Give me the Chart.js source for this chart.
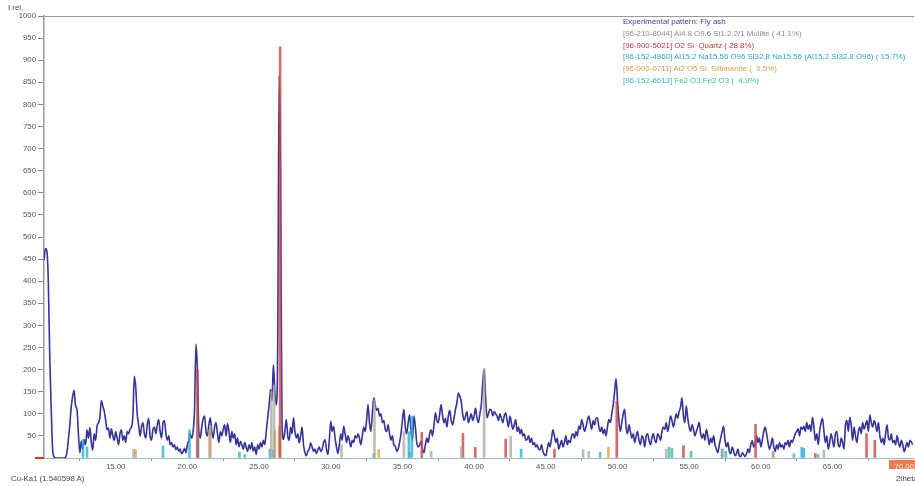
<!DOCTYPE html>
<html>
<head>
<meta charset="utf-8">
<title>XRD pattern - Fly ash</title>
<script src="https://cdn.jsdelivr.net/npm/chart.js@4.4.1/dist/chart.umd.min.js"></script>
<style>
  html, body { margin: 0; padding: 0; background: #fff; }
  #wrap { position: relative; width: 915px; height: 486px; overflow: hidden; font-family: "Liberation Sans", Arial, sans-serif; }
  #xrd { position: absolute; left: 0; top: 0; }
  .note { position: absolute; font-size: 7.8px; color: #444; white-space: pre; }
  #legend { position: absolute; left: 623px; top: 16px; font-size: 7.9px; line-height: 11.8px; }
  #legend div { white-space: pre; }
  #scrollMark { position: absolute; left: 889px; top: 460px; width: 26px; height: 9px; background: #f27a4e; }
  #zeroMark { position: absolute; left: 35px; top: 457px; width: 9px; height: 2px; background: #e03030; }
</style>
</head>
<body>
<div id="wrap">
  <div id="scrollMark"></div>
  <canvas id="xrd" width="915" height="486"></canvas>
  <div id="zeroMark"></div>
  <div class="note" style="left:8px; top:3px;">I rel.</div>
  <div class="note" style="left:11px; top:474px;">Cu-Ka1 (1.540598 A)</div>
  <div class="note" style="left:896px; top:474px;">2theta</div>
  <div id="legend"><div style="color:#3c3c9c">Experimental pattern: Fly ash</div><div style="color:#8c8c8c">[96-210-8044] Al4.8 O9.6 Si1.2 2/1 Mullite ( 41.1%)</div><div style="color:#c0393b">[96-900-5021] O2 Si  Quartz ( 28.8%)</div><div style="color:#2aa8d0">[96-152-4960] Al15.2 Na15.56 O96 Si32.8 Na15.56 (Al15.2 Si32.8 O96) ( 15.7%)</div><div style="color:#e0a040">[96-900-0711] Al2 O5 Si  Sillimanite (  9.5%)</div><div style="color:#3cc0a8">[96-152-6613] Fe2 O3 Fe2 O3 (  4.9%)</div></div>
</div>

<script>
// Scan: 2theta from 10.0 in 0.1 deg steps, one row per degree
var scanStart = 10.0;
var scanStep = 0.1;
var intensities = [
  447, 474, 468, 400, 230, 115, 20, 3, 0, 0,        // 10
  0, 0, 0, 0, 0, 2, 12, 42, 75, 115,                // 11
  140, 153, 118, 110, 55, 12, 38, 20, 42, 30,       // 12
  64, 45, 69, 35, 18, 55, 40, 72, 80, 92,           // 13
  130, 118, 106, 85, 64, 68, 45, 66, 50, 40,        // 14
  60, 45, 30, 55, 64, 40, 50, 35, 60, 55,           // 15
  65, 70, 95, 185, 160, 100, 75, 50, 70, 80,        // 16
  55, 45, 75, 90, 50, 40, 65, 70, 55, 75,           // 17
  87, 60, 45, 80, 85, 55, 40, 50, 30, 35,           // 18
  25, 30, 19, 25, 15, 20, 10, 14, 22, 12,           // 19
  30, 40, 55, 45, 60, 110, 258, 200, 60, 45,        // 20
  70, 88, 95, 60, 50, 75, 91, 60, 45, 70,           // 21
  80, 55, 35, 60, 50, 65, 75, 50, 78, 60,           // 22
  35, 60, 45, 55, 30, 45, 25, 38, 30, 20,           // 23
  35, 25, 15, 30, 20, 35, 15, 25, 8, 30,            // 24
  20, 35, 25, 40, 30, 60, 90, 120, 155, 130,        // 25
  211, 150, 120, 250, 865, 640, 80, 42, 60, 87,     // 26
  50, 40, 70, 55, 91, 60, 45, 55, 34, 50,           // 27
  70, 30, 12, 5, 15, 20, 34, 25, 15, 20,            // 28
  10, 18, 25, 15, 20, 35, 42, 20, 8, 40,            // 29
  83, 60, 72, 45, 25, 10, 30, 55, 40, 72,           // 30
  55, 35, 50, 40, 25, 40, 35, 50, 45, 55,           // 31
  45, 30, 50, 70, 60, 85, 121, 80, 60, 100,         // 32
  136, 120, 108, 112, 95, 100, 80, 85, 65, 60,      // 33
  75, 55, 40, 50, 30, 27, 15, 20, 35, 55,           // 34
  85, 110, 70, 55, 80, 98, 60, 40, 95, 70,          // 35
  35, 25, 30, 38, 20, 12, 30, 45, 35, 55,           // 36
  64, 50, 75, 102, 85, 80, 100, 121, 95, 80,        // 37
  90, 70, 95, 108, 85, 75, 90, 110, 125, 147,       // 38
  140, 128, 100, 85, 95, 105, 80, 90, 100, 85,      // 39
  95, 113, 90, 80, 100, 120, 170, 202, 140, 91,     // 40
  100, 110, 108, 95, 105, 100, 95, 85, 100, 90,     // 41
  80, 95, 102, 85, 70, 95, 80, 65, 75, 87,          // 42
  60, 70, 55, 65, 50, 55, 40, 42, 50, 35,           // 43
  45, 30, 35, 25, 30, 20, 19, 30, 15, 8,            // 44
  5, 20, 35, 25, 45, 64, 50, 35, 45, 20,            // 45
  30, 40, 25, 35, 50, 30, 40, 35, 50, 55,           // 46
  45, 60, 50, 72, 65, 87, 75, 60, 70, 85,           // 47
  95, 80, 65, 85, 75, 90, 91, 70, 60, 70,           // 48
  55, 65, 50, 70, 87, 80, 100, 120, 150, 179,       // 49
  130, 85, 60, 80, 100, 110, 70, 55, 75, 60,        // 50
  45, 55, 35, 50, 60, 40, 30, 50, 45, 25,           // 51
  50, 55, 40, 30, 45, 55, 40, 35, 55, 50,           // 52
  40, 60, 70, 65, 80, 60, 75, 95, 85, 70,           // 53
  85, 100, 90, 105, 115, 136, 95, 80, 118, 90,      // 54
  70, 60, 75, 65, 50, 60, 70, 81, 55, 45,           // 55
  55, 40, 65, 50, 30, 45, 35, 50, 30, 20,           // 56
  12, 30, 45, 60, 72, 40, 25, 35, 15, 10,           // 57
  25, 15, 5, 10, 20, 5, 3, 12, 8, 3,                // 58
  10, 20, 12, 30, 39, 25, 30, 50, 35, 45,           // 59
  25, 40, 60, 70, 55, 35, 20, 30, 45, 25,           // 60
  15, 30, 20, 35, 25, 30, 20, 35, 30, 40,           // 61
  25, 40, 35, 45, 55, 60, 66, 50, 70, 65,           // 62
  72, 60, 80, 65, 75, 60, 92, 70, 40, 55,           // 63
  30, 60, 80, 90, 60, 35, 50, 20, 35, 55,           // 64
  40, 25, 55, 60, 30, 25, 45, 35, 20, 75,           // 65
  85, 60, 92, 75, 40, 70, 50, 35, 60, 70,           // 66
  55, 80, 65, 75, 85, 60, 97, 80, 70, 85,           // 67
  75, 60, 80, 50, 35, 45, 30, 55, 75, 45,           // 68
  40, 55, 35, 40, 30, 51, 35, 25, 40, 30,           // 69
  14, 25, 35, 25, 40, 36, 30                        // 70
];

// Reference sticks of the identified phases (2theta, I rel.)
var mullitePos = [16.25, 21.6, 25.85, 26.05, 30.75, 33.05, 35.1, 37.0, 39.1, 40.7, 42.55, 47.6, 48.0, 53.4, 57.3, 60.86, 64.4];
var mulliteInt = [20, 72, 150, 165, 30, 132, 60, 15, 25, 200, 49, 19, 15, 20, 20, 15, 18];

var quartzPos = [20.7, 26.47, 36.35, 39.22, 40.08, 42.2, 45.6, 49.95, 54.6, 59.63, 63.8, 67.37, 67.95];
var quartzInt = [200, 930, 58, 55, 24, 42, 20, 128, 28, 76, 10, 55, 40];

var naAlSiPos = [12.72, 13.0, 18.3, 20.15, 20.75, 23.63, 25.75, 26.0, 35.45, 35.66, 43.28, 57.3, 57.55, 62.85, 63.0];
var naAlSiInt = [42, 25, 27, 64, 42, 13, 20, 18, 60, 95, 20, 20, 15, 24, 22];

var sillimanitePos = [16.38, 21.55, 26.1, 26.42, 33.35, 49.37, 60.86];
var sillimaniteInt = [19, 64, 62, 72, 19, 24, 15];

var hematitePos = [24.0, 33.0, 35.5, 48.79, 53.6, 53.8, 55.13, 62.3, 64.0];
var hematiteInt = [8, 10, 12, 13, 24, 22, 15, 10, 8];

var tickFont = { family: '"Liberation Sans", Arial, sans-serif', size: 7.8 };

function sticks(label, pos, vals, color) {
    return {
        type: 'bar',
        label: label,
        data: pos.map(function (p, i) { return { x: p, y: vals[i] }; }),
        backgroundColor: color,
        borderWidth: 0,
        barThickness: 2,
        grouped: false,
        xAxisID: 'x',
        order: 0
    };
}

var experimental = intensities.map(function (v, i) {
    return { x: scanStart + i * scanStep, y: v };
});

new Chart(document.getElementById('xrd'), {
    type: 'line',
    data: {
        datasets: [
            {
                label: 'Experimental pattern: Fly ash',
                data: experimental,
                borderColor: '#34349a',
                borderWidth: 1.6,
                pointRadius: 0,
                cubicInterpolationMode: 'monotone',
                xAxisID: 'x',
                order: 1
            },
            sticks('Mullite', mullitePos, mulliteInt, 'rgba(170,165,155,0.75)'),
            sticks('Quartz', quartzPos, quartzInt, 'rgba(204,70,70,0.8)'),
            sticks('Na-Al silicate', naAlSiPos, naAlSiInt, 'rgba(48,176,216,0.8)'),
            sticks('Sillimanite', sillimanitePos, sillimaniteInt, 'rgba(228,160,70,0.8)'),
            sticks('Hematite', hematitePos, hematiteInt, 'rgba(60,190,160,0.8)')
        ]
    },
    options: {
        responsive: false,
        animation: false,
        devicePixelRatio: 1,
        layout: { padding: { top: 16, right: 0, left: 0, bottom: 0 } },
        plugins: { legend: { display: false }, tooltip: { enabled: false } },
        scales: {
            x: {
                type: 'linear',
                min: 10,
                max: 70.65,
                offset: false,
                ticks: {
                    stepSize: 5,
                    includeBounds: false,
                    autoSkip: false,
                    maxRotation: 0,
                    padding: 1,
                    font: tickFont,
                    color: function (c) { return c.tick && c.tick.value === 70 ? '#fde3d8' : '#555'; },
                    callback: function (v) { return v === 10 ? '' : v.toFixed(2); }
                },
                grid: { drawOnChartArea: false, tickLength: 3, color: '#999' },
                border: { color: '#9bb', width: 1 },
                afterFit: function (s) { s.height = 28; }
            },
            x2: {
                type: 'linear',
                position: 'top',
                min: 10,
                max: 70.65,
                ticks: { display: false },
                grid: { display: false },
                border: { color: '#999', width: 1 },
                afterFit: function (s) { s.height = 0; }
            },
            y: {
                min: 0,
                max: 1000,
                ticks: {
                    stepSize: 50,
                    padding: 2,
                    font: tickFont,
                    color: '#555',
                    callback: function (v) { return v === 0 ? '' : v; }
                },
                grid: { drawOnChartArea: false, tickLength: 6, color: '#888' },
                border: { color: '#999', width: 1.5 },
                afterFit: function (s) { s.width = 44; }
            }
        }
    }
});
</script>
</body>
</html>
